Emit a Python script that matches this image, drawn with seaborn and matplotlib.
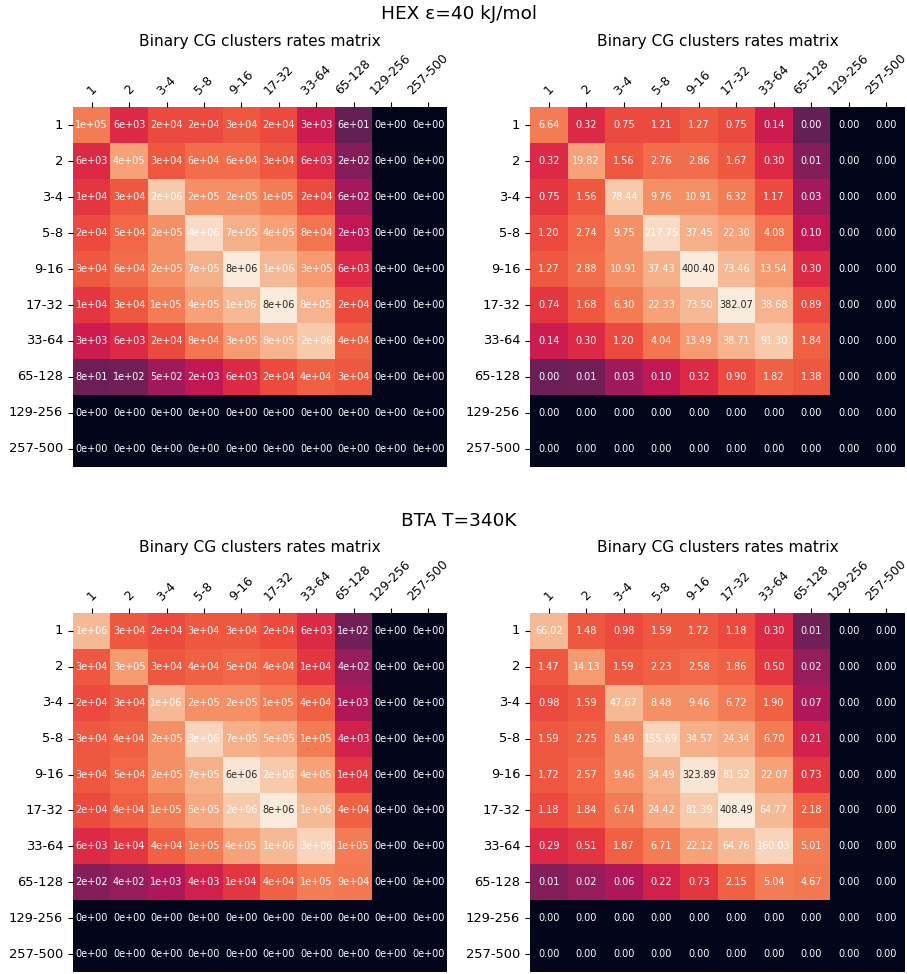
import numpy as np
import matplotlib
matplotlib.use("Agg")
import matplotlib.pyplot as plt
import seaborn as sns

labels = ["1", "2", "3-4", "5-8", "9-16", "17-32", "33-64", "65-128", "129-256", "257-500"]

hex_counts = [
    [1e5, 6e3, 2e4, 2e4, 3e4, 2e4, 3e3, 6e1, 0, 0],
    [6e3, 4e5, 3e4, 6e4, 6e4, 3e4, 6e3, 2e2, 0, 0],
    [1e4, 3e4, 2e6, 2e5, 2e5, 1e5, 2e4, 6e2, 0, 0],
    [2e4, 5e4, 2e5, 4e6, 7e5, 4e5, 8e4, 2e3, 0, 0],
    [3e4, 6e4, 2e5, 7e5, 8e6, 1e6, 3e5, 6e3, 0, 0],
    [1e4, 3e4, 1e5, 4e5, 1e6, 8e6, 8e5, 2e4, 0, 0],
    [3e3, 6e3, 2e4, 8e4, 3e5, 8e5, 2e6, 4e4, 0, 0],
    [8e1, 1e2, 5e2, 2e3, 6e3, 2e4, 4e4, 3e4, 0, 0],
    [0, 0, 0, 0, 0, 0, 0, 0, 0, 0],
    [0, 0, 0, 0, 0, 0, 0, 0, 0, 0],
]

hex_rates = [
    [6.64, 0.32, 0.75, 1.21, 1.27, 0.75, 0.14, 0.00, 0, 0],
    [0.32, 19.82, 1.56, 2.76, 2.86, 1.67, 0.30, 0.01, 0, 0],
    [0.75, 1.56, 78.44, 9.76, 10.91, 6.32, 1.17, 0.03, 0, 0],
    [1.20, 2.74, 9.75, 217.75, 37.45, 22.30, 4.08, 0.10, 0, 0],
    [1.27, 2.88, 10.91, 37.43, 400.40, 73.46, 13.54, 0.30, 0, 0],
    [0.74, 1.68, 6.30, 22.33, 73.50, 382.07, 38.68, 0.89, 0, 0],
    [0.14, 0.30, 1.20, 4.04, 13.49, 38.71, 91.30, 1.84, 0, 0],
    [0.00, 0.01, 0.03, 0.10, 0.32, 0.90, 1.82, 1.38, 0, 0],
    [0, 0, 0, 0, 0, 0, 0, 0, 0, 0],
    [0, 0, 0, 0, 0, 0, 0, 0, 0, 0],
]

bta_counts = [
    [1e6, 3e4, 2e4, 3e4, 3e4, 2e4, 6e3, 1e2, 0, 0],
    [3e4, 3e5, 3e4, 4e4, 5e4, 4e4, 1e4, 4e2, 0, 0],
    [2e4, 3e4, 1e6, 2e5, 2e5, 1e5, 4e4, 1e3, 0, 0],
    [3e4, 4e4, 2e5, 3e6, 7e5, 5e5, 1e5, 4e3, 0, 0],
    [3e4, 5e4, 2e5, 7e5, 6e6, 2e6, 4e5, 1e4, 0, 0],
    [2e4, 4e4, 1e5, 5e5, 2e6, 8e6, 1e6, 4e4, 0, 0],
    [6e3, 1e4, 4e4, 1e5, 4e5, 1e6, 3e6, 1e5, 0, 0],
    [2e2, 4e2, 1e3, 4e3, 1e4, 4e4, 1e5, 9e4, 0, 0],
    [0, 0, 0, 0, 0, 0, 0, 0, 0, 0],
    [0, 0, 0, 0, 0, 0, 0, 0, 0, 0],
]

bta_rates = [
    [66.02, 1.48, 0.98, 1.59, 1.72, 1.18, 0.30, 0.01, 0, 0],
    [1.47, 14.13, 1.59, 2.23, 2.58, 1.86, 0.50, 0.02, 0, 0],
    [0.98, 1.59, 47.67, 8.48, 9.46, 6.72, 1.90, 0.07, 0, 0],
    [1.59, 2.25, 8.49, 155.69, 34.57, 24.34, 6.70, 0.21, 0, 0],
    [1.72, 2.57, 9.46, 34.49, 323.89, 81.52, 22.07, 0.73, 0, 0],
    [1.18, 1.84, 6.74, 24.42, 81.39, 408.49, 64.77, 2.18, 0, 0],
    [0.29, 0.51, 1.87, 6.71, 22.12, 64.76, 160.03, 5.01, 0, 0],
    [0.01, 0.02, 0.06, 0.22, 0.73, 2.15, 5.04, 4.67, 0, 0],
    [0, 0, 0, 0, 0, 0, 0, 0, 0, 0],
    [0, 0, 0, 0, 0, 0, 0, 0, 0, 0],
]

suptitles = ["HEX \u03b5=40 kJ/mol", "BTA T=340K"]
title = "Binary CG clusters rates matrix"

fig = plt.figure(figsize=(9.07, 9.74), dpi=100)

W, H = 907.0, 974.0
def pos(l, r, t, b):
    return [l / W, 1 - b / H, (r - l) / W, (b - t) / H]

rows = [(hex_counts, hex_rates, 107, 467), (bta_counts, bta_rates, 613, 972)]


def draw(ax, counts, annot_vals, fmt):
    c = np.array(counts, dtype=float)
    a = np.array(annot_vals, dtype=float)
    color_data = np.log10(c + 1)
    sns.heatmap(color_data, annot=a, fmt=fmt, cmap="rocket", cbar=False,
                xticklabels=labels, yticklabels=labels, ax=ax,
                annot_kws={"size": 7})
    mx = a.max()
    for txt, v in zip(ax.texts, a.flat):
        txt.set_color(".15" if v >= 0.7 * mx else "w")
    ax.xaxis.tick_top()
    ax.xaxis.set_label_position("top")
    plt.setp(ax.get_xticklabels(), rotation=45, ha="center", fontsize=8.9)
    plt.setp(ax.get_yticklabels(), rotation=0, fontsize=9.4)
    ax.set_title(title, fontsize=11.1, pad=4)


for i, (cnt, rate, top, bot) in enumerate(rows):
    ax1 = fig.add_axes(pos(73, 447, top, bot))
    draw(ax1, cnt, cnt, ".0e")
    ax2 = fig.add_axes(pos(530, 905, top, bot))
    draw(ax2, cnt, rate, ".2f")

fig.text(459 / W, 1 - 14 / H, suptitles[0], ha="center", va="center", fontsize=13.3)
fig.text(459 / W, 1 - 521 / H, suptitles[1], ha="center", va="center", fontsize=13.3)

fig.savefig("out.png", dpi=100)
